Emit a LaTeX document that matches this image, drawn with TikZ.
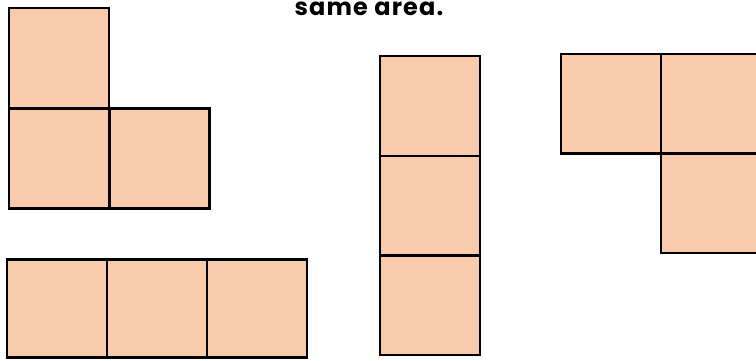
\documentclass[tikz,border=0pt]{standalone}
\usepackage{fontspec}
\setmainfont{Poppins}
\newfontfamily\captionfont[LetterSpace=5]{Poppins}
\definecolor{peach}{HTML}{F8CBAD}
\tikzset{
  sq/.style={draw=black, fill=peach, line width=2.3pt, minimum size=100pt, inner sep=0pt, outer sep=0pt, anchor=north west},
  caption/.style={font=\captionfont\fontsize{24}{30}\selectfont\bfseries, anchor=base, inner sep=0pt}
}
\begin{document}
\begin{tikzpicture}[x=1pt,y=-1pt]
\useasboundingbox (0,0) rectangle (756,361);
\clip (0,0) rectangle (756,361);
\node[caption] (t) at (369,15.5) {same area.};
% L shape
\node[sq] (a1) at (9,8) {};
\node[sq] (a2) at (9,108.5) {};
\node[sq] (a3) at (109.5,108.5) {};
% bottom strip
\node[sq, minimum height=98pt] (b1) at (7,259.5) {};
\node[sq, minimum height=98pt] (b2) at (107,259.5) {};
\node[sq, minimum height=98pt] (b3) at (207,259.5) {};
% vertical column
\node[sq, minimum height=99.7pt] (c1) at (380,56) {};
\node[sq, minimum height=99.7pt] (c2) at (380,155.7) {};
\node[sq, minimum height=99.7pt] (c3) at (380,255.4) {};
% right shape
\node[sq, minimum height=99.5pt] (d1) at (561,54) {};
\node[sq, minimum height=99.5pt] (d2) at (661,54) {};
\node[sq, minimum height=99.5pt] (d3) at (661,153.5) {};
\end{tikzpicture}
\end{document}
